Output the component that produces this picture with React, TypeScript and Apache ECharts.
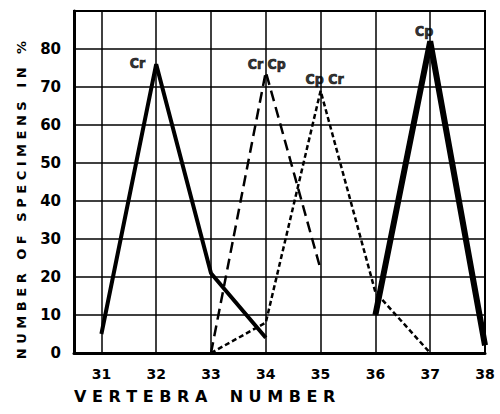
import React, { useEffect, useRef } from "react";
import * as echarts from "echarts";

const VERTEBRA_TICKS = [31, 32, 33, 34, 35, 36, 37, 38];

const crVert = [31, 32, 33, 34];
const crPct = [5, 76, 21, 4];

const crCpVert = [33, 34, 35];
const crCpPct = [0, 74, 22];

const cpCrVert = [33, 34, 35, 36, 37];
const cpCrPct = [0, 8, 69, 16, 0];

const cpVert = [36, 37, 38];
const cpPct = [10, 82, 2];

const Y_TITLE = "N U M B E R   O F   S P E C I M E N S   I N   %";
const X_TITLE = "V E R T E B R A    N U M B E R";

const FONT = "'DejaVu Sans', sans-serif";
const NARROW = "'Liberation Sans Narrow', 'DejaVu Sans Condensed', 'DejaVu Sans', sans-serif";

function pairs(xs: number[], ys: number[]) {
  return xs.map((x, i) => [x, ys[i]]);
}

function peak(xs: number[], ys: number[], text: string, label: any) {
  let k = 0;
  ys.forEach((y, i) => {
    if (y > ys[k]) k = i;
  });
  return { value: [xs[k], ys[k]], label: { show: true, formatter: text, ...label } };
}

const peakLabelStyle = {
  color: "#000",
  fontFamily: NARROW,
  fontWeight: "bold",
  fontSize: 14,
  textBorderColor: "#000",
  textBorderWidth: 0.7,
};

export default function App() {
  const ref = useRef<HTMLDivElement>(null);
  useEffect(() => {
    if (!ref.current) return;
    const chart = echarts.init(ref.current, undefined, { renderer: "svg" });
    chart.setOption({
      animation: false,
      backgroundColor: "#fff",
      grid: {
        left: 74,
        right: 15,
        top: 11,
        bottom: 61,
        show: true,
        borderColor: "#000",
        borderWidth: 2,
      },
      xAxis: {
        type: "value",
        min: 30.5,
        max: 38,
        axisLine: { show: true, onZero: false, lineStyle: { color: "#000", width: 3 } },
        axisTick: { show: false, customValues: VERTEBRA_TICKS },
        splitLine: { show: true, lineStyle: { color: "#000", width: 1.5 } },
        axisLabel: {
          customValues: VERTEBRA_TICKS,
          color: "#000",
          fontFamily: FONT,
          fontWeight: "bold",
          fontSize: 14,
          margin: 14,
        },
      },
      yAxis: {
        type: "value",
        min: 0,
        max: 90,
        interval: 10,
        axisLine: { show: true, lineStyle: { color: "#000", width: 3 } },
        axisTick: { show: false },
        splitLine: { show: true, lineStyle: { color: "#000", width: 1.5 } },
        axisLabel: {
          color: "#000",
          fontFamily: FONT,
          fontWeight: "bold",
          fontSize: 15,
          margin: 13,
          formatter: (v: number) => (v >= 90 ? "" : String(v)),
        },
      },
      graphic: [
        {
          type: "text",
          x: 21,
          y: 200,
          rotation: Math.PI / 2,
          style: {
            text: Y_TITLE,
            fill: "#000",
            font: `bold 13px ${FONT}`,
            align: "center",
            verticalAlign: "middle",
          },
        },
        {
          type: "text",
          x: 74,
          y: 396,
          style: {
            text: X_TITLE,
            fill: "#000",
            font: `bold 16px ${FONT}`,
            align: "left",
            verticalAlign: "middle",
          },
        },
      ],
      series: [
        {
          name: "Cr",
          type: "line",
          symbol: "none",
          lineStyle: { color: "#000", width: 4 },
          data: pairs(crVert, crPct),
        },
        {
          name: "Cr Cp",
          type: "line",
          symbol: "none",
          lineStyle: { color: "#000", width: 2.5, type: [11, 6] },
          data: pairs(crCpVert, crCpPct),
        },
        {
          name: "Cp Cr",
          type: "line",
          symbol: "none",
          lineStyle: { color: "#000", width: 2.5, type: [5, 3] },
          data: pairs(cpCrVert, cpCrPct),
        },
        {
          name: "Cp",
          type: "line",
          symbol: "none",
          lineStyle: { color: "#000", width: 6 },
          data: pairs(cpVert, cpPct),
        },
        {
          name: "peak labels",
          type: "scatter",
          symbolSize: 0,
          itemStyle: { color: "rgba(0,0,0,0)" },
          emphasis: { disabled: true },
          z: 5,
          data: [
            peak(crVert, crPct, "Cr", {
              ...peakLabelStyle,
              position: "left",
              distance: 11,
              offset: [0, -1],
            }),
            peak(crCpVert, crCpPct, "Cr Cp", {
              ...peakLabelStyle,
              position: "top",
              distance: 1,
              offset: [1, 0],
            }),
            peak(cpCrVert, cpCrPct, "Cp Cr", {
              ...peakLabelStyle,
              position: "top",
              distance: 5,
              offset: [4, 0],
            }),
            peak(cpVert, cpPct, "Cp", {
              ...peakLabelStyle,
              position: "top",
              distance: 3,
              offset: [-6, 0],
            }),
          ],
        },
      ],
    });
    return () => chart.dispose();
  }, []);
  return (
    <div
      ref={ref}
      style={{ position: "absolute", left: 0, top: 0, width: 500, height: 414 }}
    />
  );
}
